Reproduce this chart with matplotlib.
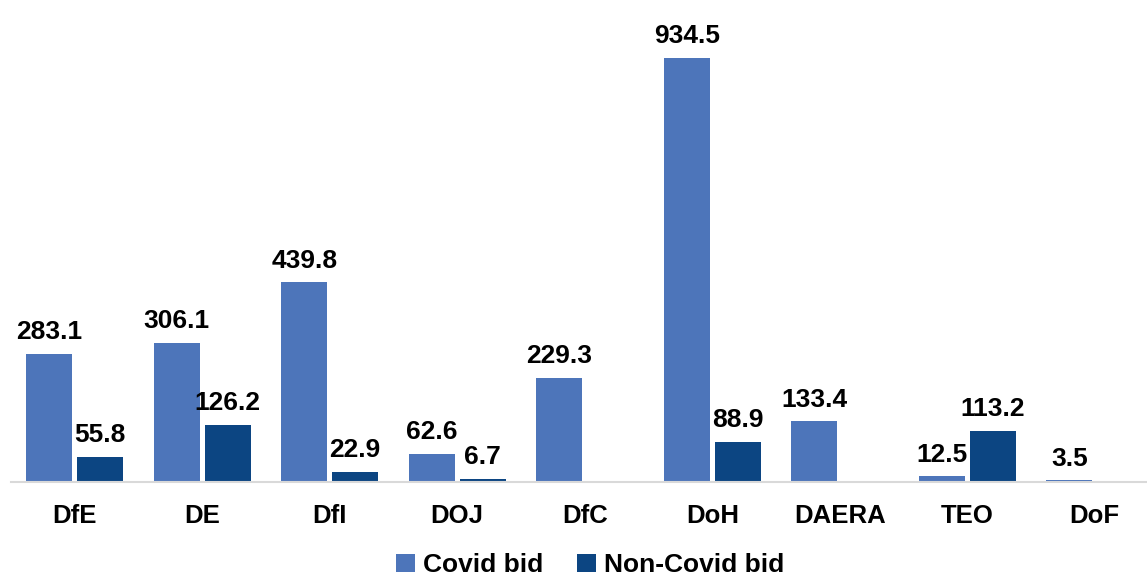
import numpy as np
import matplotlib.pyplot as plt

# Chart data
departments = ["DfE", "DE", "DfI", "DOJ", "DfC", "DoH", "DAERA", "TEO", "DoF"]
covid_bid = [283.1, 306.1, 439.8, 62.6, 229.3, 934.5, 133.4, 12.5, 3.5]
non_covid_bid = [55.8, 126.2, 22.9, 6.7, 0, 88.9, 0, 113.2, 0]

plt.rcParams['font.family'] = ['Liberation Sans', 'DejaVu Sans']

fig = plt.figure(figsize=(11.47, 5.79), dpi=100)
ax = fig.add_axes([11 / 1147, 97 / 579, 1147.5 / 1147, 453.7 / 579])

x = np.arange(len(departments))
width = 0.36
offset = 0.2

bars1 = ax.bar(x - offset, covid_bid, width, color="#4D75BA", label="Covid bid")
bars2 = ax.bar(x + offset, non_covid_bid, width, color="#0C4582", label="Non-Covid bid")

# Value labels
for bars, vals in [(bars1, covid_bid), (bars2, non_covid_bid)]:
    for b, v in zip(bars, vals):
        if v > 0:
            ax.annotate(f"{v:.1f}", (b.get_x() + b.get_width() / 2, v),
                        xytext=(0, 7), textcoords="offset points",
                        ha="center", va="bottom", fontsize=19, fontweight="bold")

ax.set_xlim(-0.5, len(departments) - 0.5)
ax.set_ylim(0, 1000)
ax.set_xticks(x)
ax.set_xticklabels(departments, fontsize=18.5, fontweight="bold")
ax.tick_params(axis="x", length=0, pad=16)
ax.set_yticks([])

for s in ["top", "right", "left"]:
    ax.spines[s].set_visible(False)
ax.spines["bottom"].set_color("#D9D9D9")
ax.spines["bottom"].set_linewidth(1.5)

leg = fig.legend(loc="center", ncol=2, frameon=False,
                 prop={"size": 19, "weight": "bold"}, handlelength=0.7, handleheight=0.7,
                 handletextpad=0.3, columnspacing=1.3, borderpad=0.2)
leg.set_bbox_to_anchor((590 / 1147, 14 / 579), transform=fig.transFigure)

fig.savefig("out.png", dpi=100)
